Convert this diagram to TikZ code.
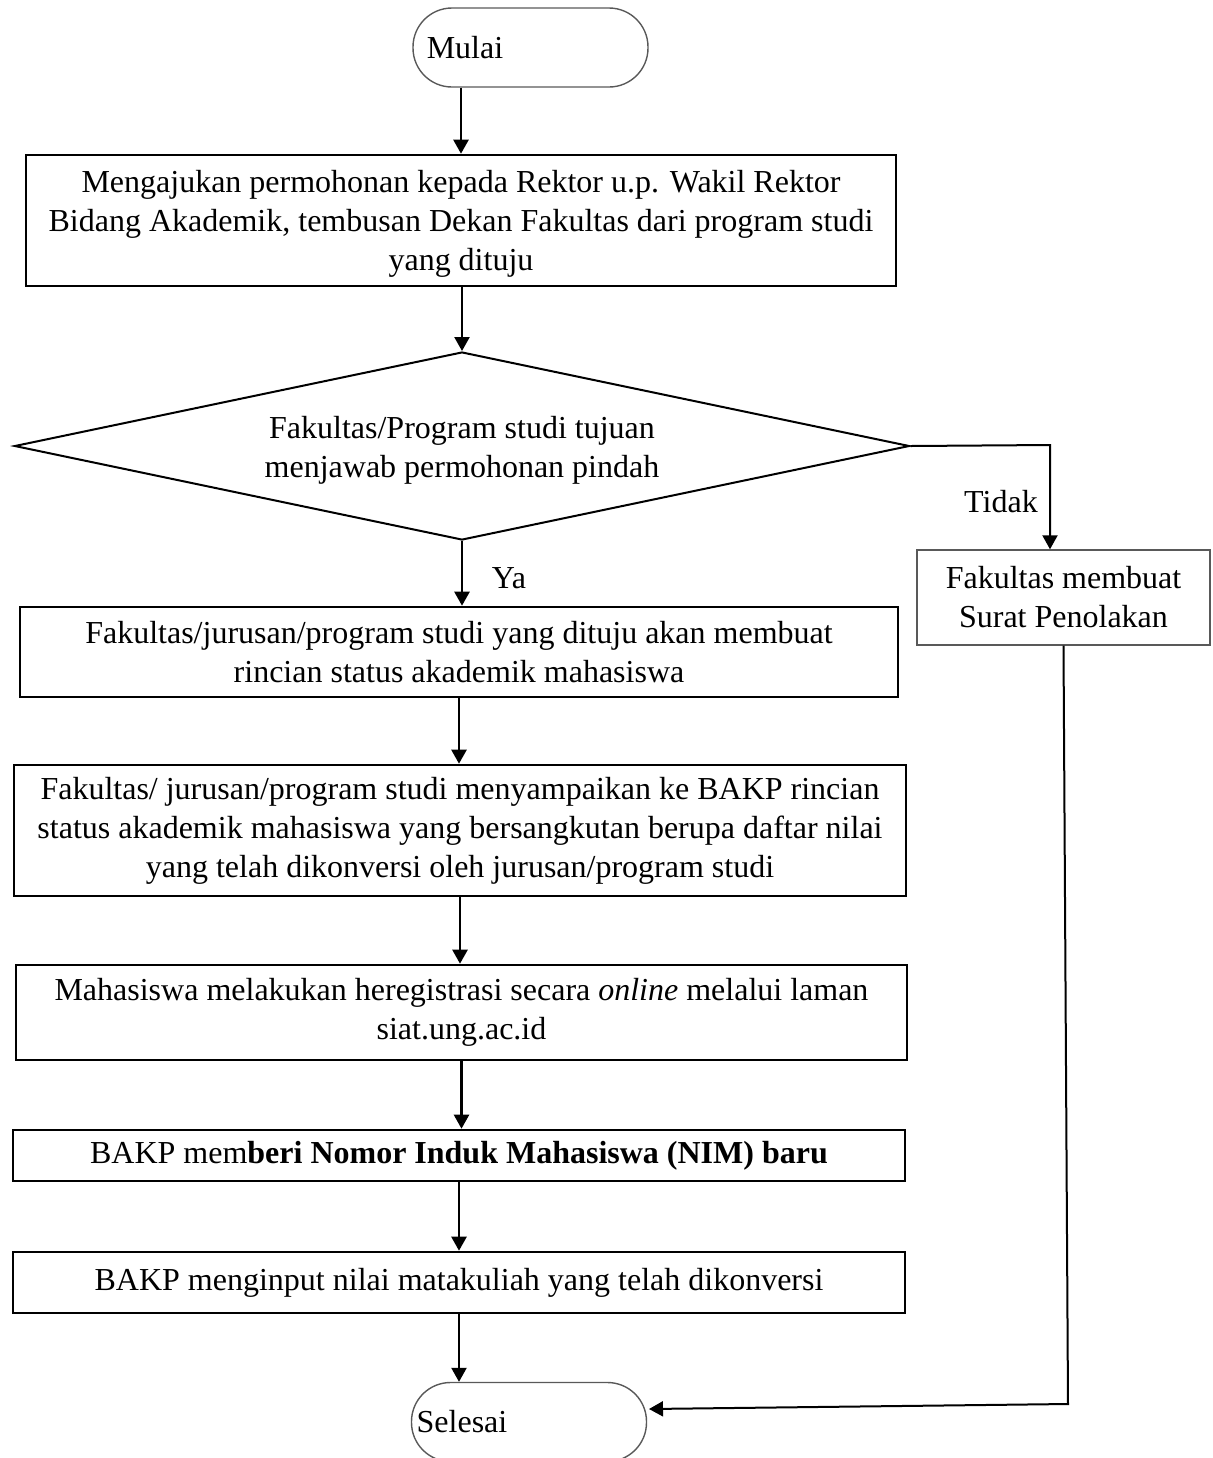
\documentclass[tikz,border=0pt]{standalone}
\usepackage{fontspec}
\setmainfont{Liberation Serif}
\usetikzlibrary{arrows.meta,shapes.geometric}
\begin{document}
\begin{tikzpicture}[x=0.5pt,y=-0.5pt,
  font=\fontsize{16}{19.5}\selectfont,
  stepbox/.style={draw=black,line width=1.3pt,align=center,inner sep=0pt},
  thinbox/.style={draw=black!65,line width=0.7pt,align=center,inner sep=0pt},
  term/.style={draw=black!65,line width=0.7pt,rounded corners=19.5pt,inner sep=0pt,
               minimum width=117.5pt,minimum height=39.5pt},
  decision/.style={draw=black,line width=1pt,diamond,aspect=4.77,inner sep=0pt,align=center,
               minimum width=447.5pt,minimum height=94pt},
  arr/.style={draw=black,line width=1.2pt,-{Triangle[length=7pt,width=7.5pt]}},
  lbl/.style={inner sep=0pt}]
\useasboundingbox (0,0) rectangle (1212,1458);
\clip (0,0) rectangle (1212,1458);

% terminators
\node[term] (start) at (530.5,47.5) {};
\node[lbl] (startlbl) at (465,48) {Mulai};
\node[term] (stop) at (529,1422) {};
\node[lbl] (stoplbl) at (462,1422) {Selesai};

% process steps
\node[stepbox,minimum width=435pt,minimum height=65.5pt] (box1) at (461,220.5)
  {\rule{0pt}{14pt}Mengajukan permohonan kepada Rektor u.p. Wakil Rektor\\
   Bidang Akademik, tembusan Dekan Fakultas dari program studi\\
   yang dituju};

\node[decision] (dec) at (462,446)
  {\rule{0pt}{15pt}Fakultas/Program studi tujuan\\ menjawab permohonan pindah};

\node[stepbox,minimum width=439pt,minimum height=45pt] (box2) at (459,652)
  {Fakultas/jurusan/program studi yang dituju akan membuat\\
   rincian status akademik mahasiswa};

\node[stepbox,minimum width=446pt,minimum height=65.5pt] (box3) at (460,830.5)
  {Fakultas/ jurusan/program studi menyampaikan ke BAKP rincian\\
   status akademik mahasiswa yang bersangkutan berupa daftar nilai\\
   yang telah dikonversi oleh jurusan/program studi};

\node[stepbox,minimum width=445.5pt,minimum height=47.5pt] (box4) at (461.5,1012.5)
  {Mahasiswa melakukan heregistrasi secara \textit{online} melalui laman\\
   siat.ung.ac.id};

\node[stepbox,minimum width=446pt,minimum height=25.5pt] (box5) at (459,1155.5)
  {BAKP mem\textbf{beri Nomor Induk Mahasiswa (NIM) baru}};

\node[stepbox,minimum width=446pt,minimum height=30.5pt] (box6) at (459,1282.5)
  {BAKP menginput nilai matakuliah yang telah dikonversi};

\node[thinbox,minimum width=146.5pt,minimum height=47.5pt] (reject) at (1063.5,597.5)
  {Fakultas membuat\\ Surat Penolakan};

% branch labels
\node[lbl] (ya) at (509,578) {Ya};
\node[lbl] (tidak) at (1001,502) {Tidak};

% connectors
\draw[arr] (box1.north |- start.south) -- (box1.north);
\draw[arr] (dec.north |- box1.south) -- (dec.north);
\draw[arr] (dec.south) -- (dec.south |- box2.north);
\draw[arr] (box2.south) -- (box2.south |- box3.north);
\draw[arr] (box3.south) -- (box3.south |- box4.north);
\draw[arr] (box4.south) -- (box4.south |- box5.north);
\draw[arr] (box5.south) -- (box5.south |- box6.north);
\draw[arr] (box6.south) -- (box6.south |- stop.north);

\coordinate (tk) at (1050,445);
\draw[arr,line width=1pt] (dec.east) -- (tk) -- (tk |- reject.north);

\coordinate (rb) at (1068,1404);
\coordinate (rt) at (649,1409);
\draw[arr,line width=1pt] (reject.south) -- (rb) -- (rt);
\end{tikzpicture}
\end{document}
